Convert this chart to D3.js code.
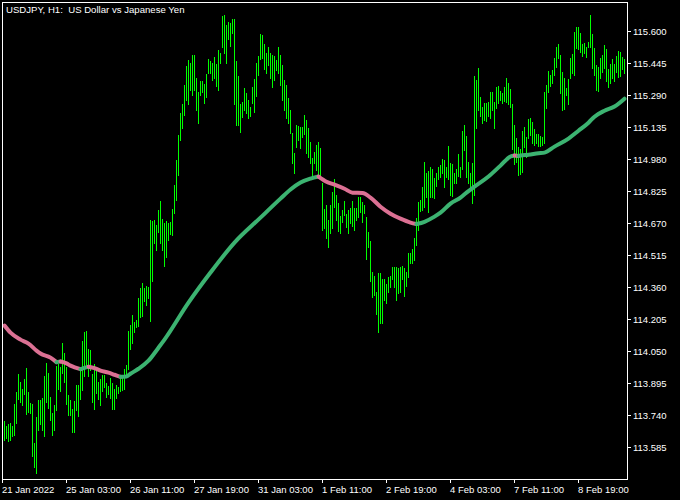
<!DOCTYPE html>
<html>
<head>
<meta charset="utf-8">
<script src="https://cdn.jsdelivr.net/npm/d3@7"></script>
<style>
  body { margin: 0; background: #000; }
  text { font-family: "Liberation Sans", Arial, sans-serif; }
</style>
</head>
<body>
<script>
// USDJPY H1, bars (high / low per bar)

const title = "USDJPY, H1:  US Dollar vs Japanese Yen";

const timeLabels = ["21 Jan 2022", "25 Jan 03:00", "26 Jan 11:00", "27 Jan 19:00", "31 Jan 03:00",
                    "1 Feb 11:00", "2 Feb 19:00", "4 Feb 03:00", "7 Feb 11:00", "8 Feb 19:00"];
const timeLabelBars = [-1, 31, 63, 95, 127, 159, 191, 223, 255, 287];

const priceTicks = [115.600, 115.445, 115.290, 115.135, 114.980, 114.825, 114.670,
                    114.515, 114.360, 114.205, 114.050, 113.895, 113.740, 113.585];

const highs = [
  113.713,113.689,113.694,113.699,113.689,113.795,113.853,113.941,113.901,113.867,
  113.916,113.969,113.853,113.799,113.795,113.606,113.732,113.814,113.814,113.824,
  113.931,113.994,113.945,113.829,113.751,113.790,113.979,113.989,113.974,114.091,
  114.042,113.974,113.838,113.814,113.771,113.809,113.887,113.887,113.974,114.100,
  114.144,114.149,114.062,114.057,113.941,113.989,113.955,113.901,113.916,113.935,
  113.935,113.896,113.882,113.921,113.896,113.867,113.887,113.877,113.916,113.935,
  113.964,113.984,114.149,114.178,114.226,114.192,114.202,114.309,114.357,114.381,
  114.357,114.367,114.362,114.686,114.681,114.686,114.662,114.735,114.778,114.691,
  114.672,114.681,114.672,114.676,114.740,114.856,114.977,115.098,115.204,115.244,
  115.340,115.432,115.461,115.447,115.485,115.485,115.374,115.306,115.360,115.360,
  115.345,115.394,115.466,115.457,115.447,115.476,115.442,115.510,115.495,115.674,
  115.679,115.631,115.645,115.640,115.660,115.660,115.457,115.384,115.244,115.258,
  115.326,115.302,115.268,115.234,115.330,115.369,115.447,115.480,115.587,115.582,
  115.538,115.495,115.524,115.495,115.485,115.480,115.461,115.524,115.485,115.437,
  115.364,115.340,115.277,115.219,115.108,115.011,115.147,115.142,115.137,115.137,
  115.195,115.171,115.132,115.064,114.987,115.016,115.050,115.064,115.035,114.866,
  114.740,114.759,114.686,114.759,114.822,114.885,114.807,114.769,114.706,114.735,
  114.778,114.715,114.735,114.744,114.778,114.744,114.744,114.797,114.797,114.773,
  114.759,114.701,114.628,114.584,114.434,114.415,114.338,114.430,114.430,114.400,
  114.400,114.376,114.410,114.415,114.459,114.459,114.459,114.454,114.459,114.464,
  114.454,114.434,114.527,114.527,114.546,114.599,114.696,114.773,114.783,114.846,
  114.967,114.914,114.924,114.943,114.933,114.890,114.914,114.943,114.953,114.982,
  114.977,114.943,115.045,114.963,114.958,114.914,114.933,115.006,114.943,115.117,
  115.147,115.093,114.967,114.914,114.963,115.384,115.364,115.423,115.282,115.234,
  115.253,115.253,115.258,115.306,115.306,115.258,115.330,115.335,115.311,115.302,
  115.330,115.374,115.350,115.321,115.248,115.147,115.084,115.040,115.030,115.117,
  115.137,115.088,115.176,115.180,115.161,115.127,115.103,115.103,115.093,115.088,
  115.306,115.340,115.408,115.389,115.413,115.471,115.524,115.538,115.485,115.403,
  115.374,115.326,115.369,115.471,115.490,115.597,115.621,115.621,115.592,115.538,
  115.543,115.524,115.548,115.679,115.587,115.519,115.437,115.427,115.471,115.485,
  115.534,115.514,115.418,115.442,115.466,115.442,115.480,115.505,115.500,115.476,115.466
];

const lows = [
  113.621,113.630,113.616,113.621,113.640,113.645,113.703,113.819,113.804,113.790,
  113.843,113.747,113.756,113.751,113.543,113.490,113.461,113.669,113.694,113.669,
  113.640,113.804,113.776,113.718,113.645,113.669,113.766,113.868,113.858,113.945,
  113.901,113.795,113.742,113.742,113.660,113.660,113.766,113.737,113.819,113.863,
  113.931,113.979,113.931,113.960,113.804,113.771,113.848,113.819,113.790,113.858,
  113.877,113.829,113.843,113.824,113.771,113.771,113.824,113.848,113.858,113.863,
  113.868,113.931,113.964,114.062,114.091,114.144,114.168,114.173,114.216,114.221,
  114.294,114.274,114.309,114.197,114.391,114.575,114.541,114.628,114.575,114.541,
  114.464,114.507,114.589,114.618,114.613,114.720,114.783,114.904,115.074,115.132,
  115.195,115.268,115.244,115.316,115.292,115.316,115.219,115.156,115.292,115.306,
  115.253,115.282,115.398,115.398,115.364,115.374,115.335,115.316,115.447,115.524,
  115.495,115.447,115.563,115.529,115.592,115.244,115.147,115.147,115.112,115.185,
  115.219,115.205,115.180,115.190,115.253,115.210,115.287,115.389,115.466,115.471,
  115.418,115.398,115.437,115.374,115.330,115.364,115.413,115.398,115.340,115.268,
  115.219,115.180,115.156,115.108,114.963,114.914,115.040,115.074,115.035,115.088,
  115.103,115.011,114.992,114.963,114.895,114.963,114.929,114.909,114.890,114.638,
  114.648,114.599,114.555,114.623,114.648,114.749,114.686,114.633,114.623,114.676,
  114.710,114.652,114.623,114.672,114.657,114.638,114.686,114.701,114.725,114.676,
  114.720,114.498,114.555,114.391,114.313,114.323,114.231,114.144,114.187,114.187,
  114.299,114.284,114.338,114.362,114.400,114.362,114.299,114.333,114.338,114.400,
  114.318,114.367,114.410,114.478,114.478,114.493,114.565,114.638,114.730,114.735,
  114.749,114.797,114.725,114.797,114.797,114.793,114.851,114.885,114.895,114.914,
  114.846,114.895,114.885,114.807,114.802,114.866,114.866,114.899,114.895,114.933,
  115.025,114.895,114.866,114.841,114.769,114.807,115.132,115.219,115.190,115.156,
  115.171,115.166,115.190,115.180,115.219,115.132,115.229,115.253,115.268,115.253,
  115.263,115.258,115.244,115.234,115.030,114.958,114.967,114.904,114.909,114.919,
  115.040,114.992,115.084,115.098,115.059,115.050,115.059,115.045,115.045,115.050,
  115.059,115.229,115.306,115.335,115.350,115.389,115.427,115.471,115.302,115.219,
  115.224,115.292,115.248,115.374,115.398,115.389,115.519,115.514,115.500,115.480,
  115.495,115.476,115.524,115.524,115.423,115.389,115.316,115.311,115.374,115.403,
  115.423,115.360,115.330,115.350,115.374,115.360,115.403,115.379,115.384,115.418,115.398
];

// moving average, sampled at these bar numbers
const maBars = [0,3,8,12,16,18,23,26,28,31,33,38,42,45,48,52,55,58,61,63,
                67,72,77,80,92,103,115,128,138,143,148,153,157,161,165,170,174,179,183,188,
                193,198,203,206,210,215,218,223,228,231,235,242,248,253,255,257,258,262,267,270,
                275,282,287,292,295,300,305,310];
const maValues = [114.173,114.139,114.105,114.086,114.052,114.038,114.018,113.996,113.999,113.990,
                  113.979,113.962,113.974,113.967,113.955,113.945,113.935,113.925,113.927,113.940,
                  113.964,114.003,114.066,114.105,114.284,114.430,114.575,114.696,114.788,114.832,
                  114.866,114.885,114.895,114.870,114.856,114.836,114.817,114.815,114.793,114.749,
                  114.715,114.691,114.672,114.665,114.676,114.701,114.720,114.764,114.793,114.817,
                  114.846,114.895,114.948,114.992,114.997,114.995,114.997,115.001,115.008,115.011,
                  115.040,115.079,115.117,115.156,115.185,115.214,115.234,115.272];

const barColor = "#00ff00";
const maUpColor = "#3cb371";
const maDownColor = "#db7093";

let svg = null;
let x, y = null;

appendSvg("body");
setupScales();
appendBars();
appendMovingAverage();
appendFrame();
appendAxes();
appendTitle();

function appendSvg(domElement) {
  svg = d3.select(domElement).append("svg")
    .attr("width", 680)
    .attr("height", 500)
    .style("background", "#000");

  svg.append("clipPath").attr("id", "plot")
    .append("rect")
    .attr("x", 3).attr("y", 3)
    .attr("width", 624).attr("height", 476);
}

function setupScales() {
  x = d3.scaleLinear().domain([0, highs.length - 1]).range([4, 624]);
  y = d3.scaleLinear().domain([113.585, 115.600]).range([447, 31]);
}

function appendBars() {
  svg.append("g")
    .attr("clip-path", "url(#plot)")
    .selectAll("line")
    .data(highs)
    .enter()
    .append("line")
      .attr("x1", (d, i) => x(i) + 0.5)
      .attr("x2", (d, i) => x(i) + 0.5)
      .attr("y1", d => Math.round(y(d)))
      .attr("y2", (d, i) => Math.round(y(lows[i])) + 1)
      .attr("stroke", barColor)
      .attr("stroke-width", 1)
      .attr("shape-rendering", "crispEdges");
}

function appendMovingAverage() {
  const pts = maBars.map((b, k) => ({ bar: b, value: maValues[k] }));

  // split into runs by direction: rising green, falling pink
  let runs = [], cur = null;
  for (let k = 1; k < pts.length; k++) {
    const color = pts[k].value >= pts[k - 1].value ? maUpColor : maDownColor;
    if (!cur || cur.color !== color) {
      cur = { color: color, pts: [pts[k - 1]] };
      runs.push(cur);
    }
    cur.pts.push(pts[k]);
  }

  const line = d3.line()
    .x(d => x(d.bar) + 0.5)
    .y(d => y(d.value))
    .curve(d3.curveMonotoneX);

  svg.append("g")
    .attr("clip-path", "url(#plot)")
    .selectAll("path")
    .data(runs)
    .enter()
    .append("path")
      .attr("d", d => line(d.pts))
      .attr("fill", "none")
      .attr("stroke", d => d.color)
      .attr("stroke-width", 4)
      .attr("stroke-linecap", "round")
      .attr("stroke-linejoin", "round");
}

function appendFrame() {
  svg.append("rect")
    .attr("x", 2.5).attr("y", 2.5)
    .attr("width", 625).attr("height", 477)
    .attr("fill", "none")
    .attr("stroke", "#fff")
    .attr("stroke-width", 1);
}

function appendAxes() {
  const yAxis = svg.append("g")
    .attr("transform", "translate(627,0)")
    .call(d3.axisRight(y)
      .tickValues(priceTicks)
      .tickSize(4)
      .tickPadding(2)
      .tickFormat(d3.format(".3f")));

  const xAxis = svg.append("g")
    .attr("transform", "translate(0,479)")
    .call(d3.axisBottom(x)
      .tickValues(timeLabelBars)
      .tickSize(4)
      .tickPadding(3)
      .tickFormat((d, i) => timeLabels[i]));

  [xAxis, yAxis].forEach(g => {
    g.select(".domain").remove();
    g.selectAll(".tick line").attr("stroke", "#fff");
    g.selectAll(".tick text")
      .attr("fill", "#fff")
      .style("font-size", "9.5px")
      .style("font-family", "'Liberation Sans', Arial, sans-serif");
  });

  xAxis.selectAll(".tick text")
    .attr("text-anchor", "start")
    .attr("x", -0.5);
}

function appendTitle() {
  svg.append("text")
    .attr("x", 6)
    .attr("y", 13)
    .attr("fill", "#fff")
    .style("font-size", "9.6px")
    .style("white-space", "pre")
    .text(title);
}
</script>
</body>
</html>
